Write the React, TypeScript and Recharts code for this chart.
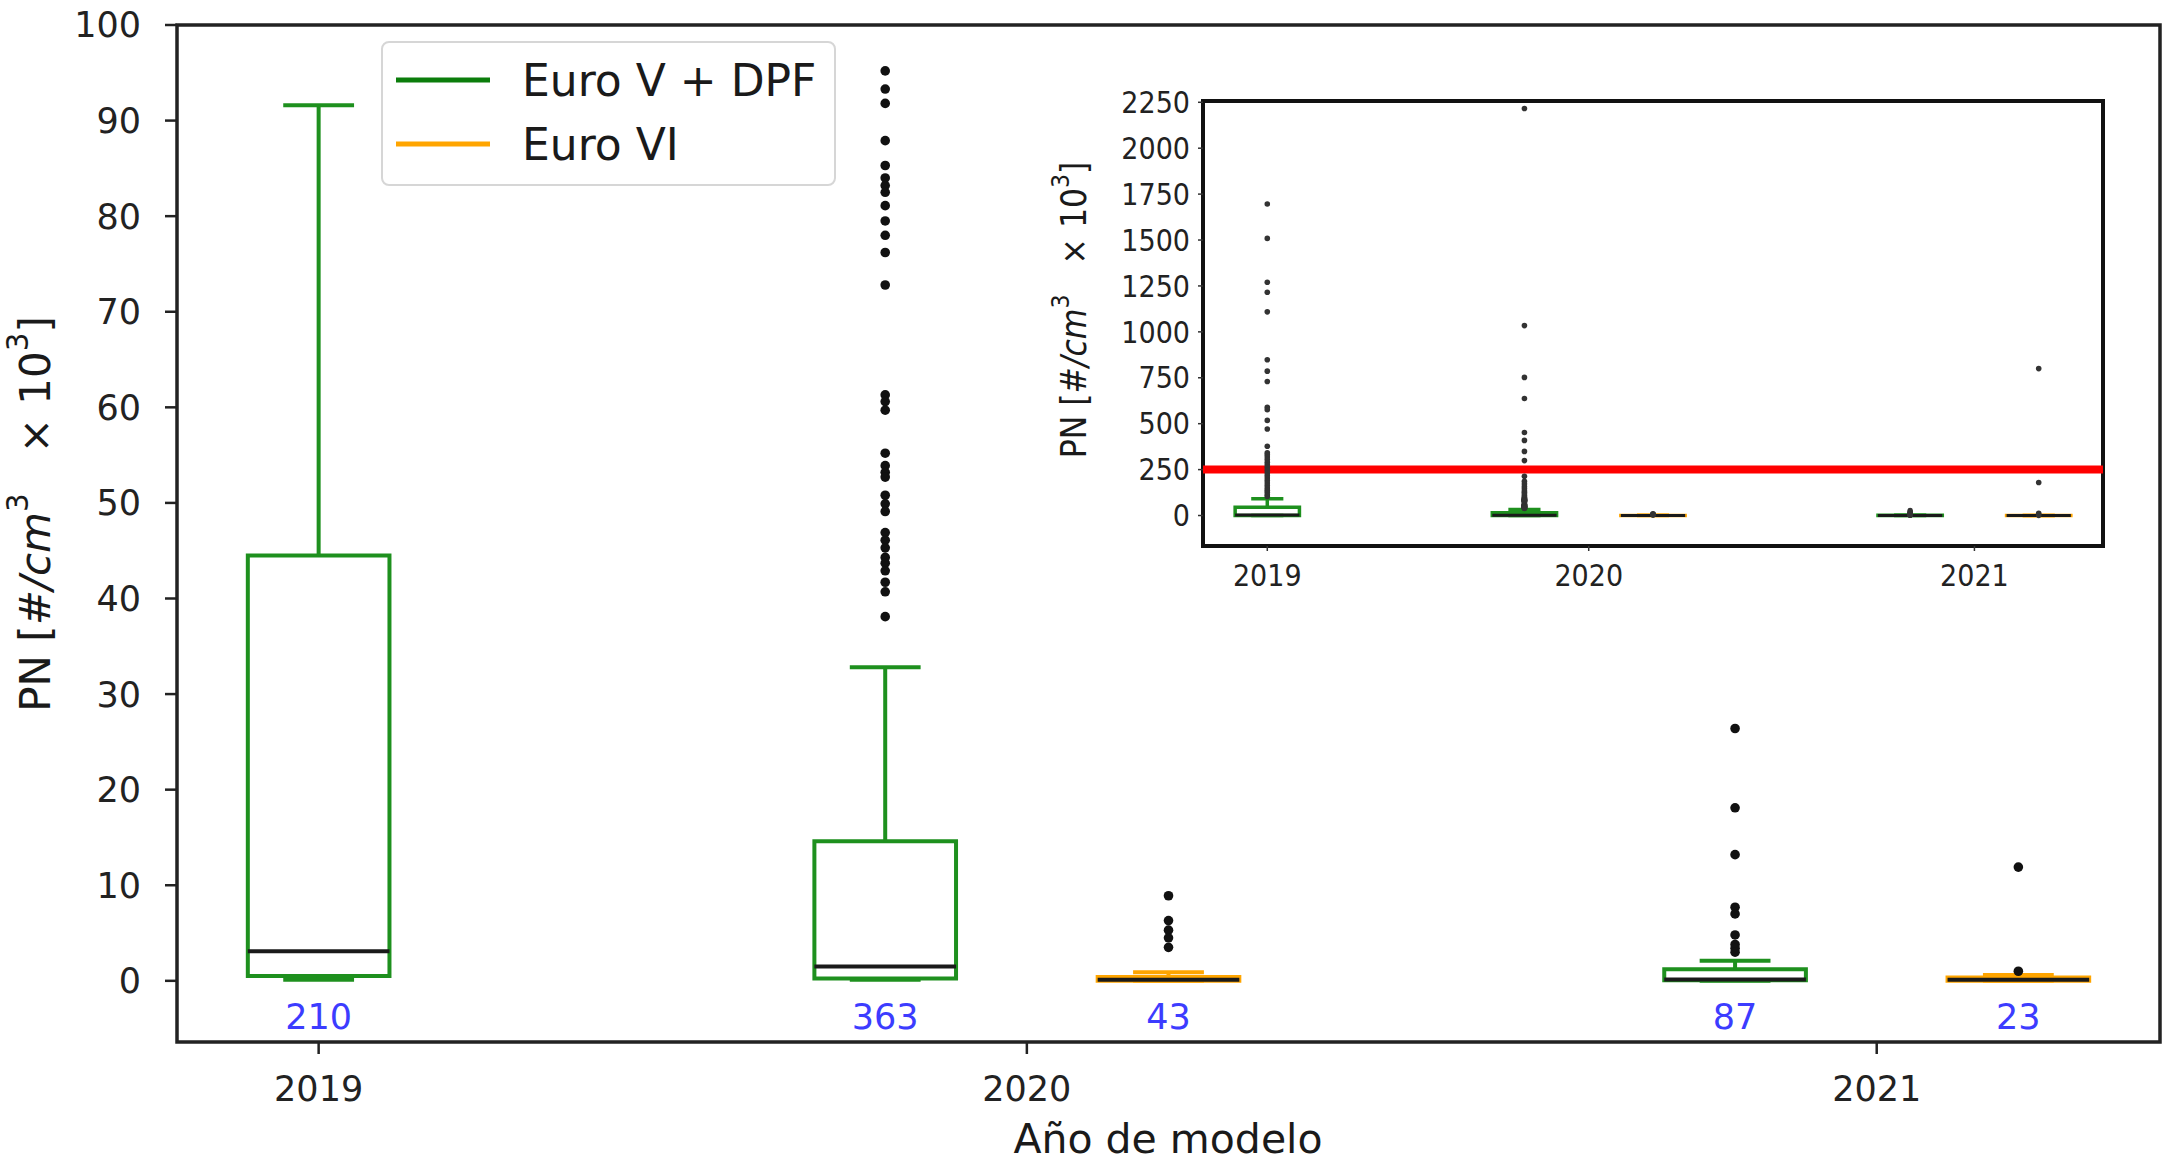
import React from "react";
import {
  ComposedChart,
  XAxis,
  YAxis,
  Scatter,
  ReferenceArea,
  ReferenceLine,
} from "recharts";

// año de modelo: etiqueta y posición del tick (entre las dos cajas del año)
const yearLabels = ["2019", "2020", "2021"];
const yearTicks = [0, 2.5, 5.5];

// una caja por (año, norma)
const boxPositions = [0, 2, 3, 5, 6];
const boxNorms = ["Euro V + DPF", "Euro V + DPF", "Euro VI", "Euro V + DPF", "Euro VI"];
const sampleCounts = [210, 363, 43, 87, 23];

// estadísticos PN [#/cm3 x 10^3]
const whiskerLow = [0.1, 0.1, 0, 0, 0];
const quartile1 = [0.5, 0.25, 0, 0.05, 0];
const medians = [3.1, 1.5, 0.1, 0.15, 0.1];
const quartile3 = [44.5, 14.6, 0.4, 1.2, 0.35];
const whiskerHigh = [91.6, 32.8, 0.9, 2.1, 0.6];

const outliers2019V = [
  1696, 1509, 1270, 1216, 1109, 848, 786, 730, 589, 576, 518, 471, 377, 342, 331,
  318, 305, 290, 276, 263, 247, 231, 218, 204, 191, 177, 163, 150, 138, 126, 113, 104,
];
const outliers2020V = [
  2216, 1034, 752, 637, 452, 409, 349, 299, 214, 186, 172, 158, 147, 135, 126, 118,
  109, 102, 95.2, 93.3, 91.8, 87.9, 85.3, 84.0, 83.2, 82.5, 81.1, 79.5, 78.0, 76.2,
  72.8, 61.3, 60.6, 59.7, 55.2, 53.9, 53.2, 52.7, 50.8, 49.9, 49.1, 46.9, 46.1, 45.3,
  44.3, 43.7, 42.9, 41.7, 40.7, 38.1,
];
const outliers2020VI = [8.9, 6.3, 5.3, 4.5, 3.5];
const outliers2021V = [26.4, 18.1, 13.2, 7.7, 7.0, 4.8, 3.8, 3.4, 3.0];
const outliers2021VI = [800, 180, 11.9, 1.0];
const outlierSets = [outliers2019V, outliers2020V, outliers2020VI, outliers2021V, outliers2021VI];

const mainTicks = [0, 10, 20, 30, 40, 50, 60, 70, 80, 90, 100];
const mainDomain = [-6.4, 100];
const insetTicks = [0, 250, 500, 750, 1000, 1250, 1500, 1750, 2000, 2250];
const insetDomain = [-166, 2257];
const limitPN = 250;

const X_DOMAIN = [-0.5, 6.5];
const GREEN = "#1e901e";
const ORANGE = "#ffa500";
const FONT = "'DejaVu Sans', sans-serif";
const INSET_FONT = "'DejaVu Sans Condensed', 'DejaVu Sans', sans-serif";

const normColor = (norm: string) => (norm === "Euro VI" ? ORANGE : GREEN);
const yearOf = (v: number) => yearLabels[yearTicks.indexOf(v)] ?? "";

function boxMarks(prefix: string, sw: number, medianW: number) {
  const half = 0.25;
  const capHalf = 0.125;
  const out: React.ReactNode[] = [];
  boxPositions.forEach((x, i) => {
    const c = normColor(boxNorms[i]);
    out.push(
      <ReferenceLine key={`${prefix}wl${i}`} segment={[{ x, y: whiskerLow[i] }, { x, y: quartile1[i] }]} stroke={c} strokeWidth={sw} ifOverflow="visible" />,
      <ReferenceLine key={`${prefix}wh${i}`} segment={[{ x, y: quartile3[i] }, { x, y: whiskerHigh[i] }]} stroke={c} strokeWidth={sw} ifOverflow="visible" />,
      <ReferenceLine key={`${prefix}cl${i}`} segment={[{ x: x - capHalf, y: whiskerLow[i] }, { x: x + capHalf, y: whiskerLow[i] }]} stroke={c} strokeWidth={sw} ifOverflow="visible" />,
      <ReferenceLine key={`${prefix}ch${i}`} segment={[{ x: x - capHalf, y: whiskerHigh[i] }, { x: x + capHalf, y: whiskerHigh[i] }]} stroke={c} strokeWidth={sw} ifOverflow="visible" />,
      <ReferenceArea key={`${prefix}b${i}`} x1={x - half} x2={x + half} y1={quartile1[i]} y2={quartile3[i]} fill="none" fillOpacity={0} stroke={c} strokeWidth={sw} ifOverflow="visible" />,
      <ReferenceLine key={`${prefix}m${i}`} segment={[{ x: x - half, y: medians[i] }, { x: x + half, y: medians[i] }]} stroke="#1a1a1a" strokeWidth={medianW} ifOverflow="visible" />
    );
  });
  return out;
}

const allOutliers = outlierSets.flatMap((vals, i) => vals.map((y) => ({ x: boxPositions[i], y })));
const mainOutliers = allOutliers.filter((p) => p.y <= mainDomain[1]);
const countPoints = boxPositions.map((x, i) => ({ x, y: -3.8, n: sampleCounts[i] }));

const PNLabel = ({ x, y, size }: { x: number; y: number; size: number }) => {
  const sup = Math.round(size * 0.4);
  return (
    <text
      transform={`translate(${x},${y}) rotate(-90)`}
      textAnchor="middle"
      dominantBaseline="central"
      fontSize={size}
      fill="#1a1a1a"
      style={{ whiteSpace: "pre" }}
    >
      <tspan>PN [</tspan>
      <tspan fontStyle="italic">#/cm</tspan>
      <tspan dy={-sup} fontSize={size * 0.7}>3</tspan>
      <tspan dy={sup}>{"   × 10"}</tspan>
      <tspan dy={-sup} fontSize={size * 0.7}>3</tspan>
      <tspan dy={sup}>]</tspan>
    </text>
  );
};

export default function App() {
  return (
    <div
      style={{
        position: "absolute",
        left: 0,
        top: 0,
        width: 2164,
        height: 1167,
        background: "#fff",
        fontFamily: FONT,
        overflow: "hidden",
      }}
    >
      {/* gráfico principal 0-100 */}
      <div style={{ position: "absolute", left: 0, top: 0 }}>
        <ComposedChart width={2164} height={1167} margin={{ top: 25, right: 4, bottom: 65, left: 0 }}>
          <XAxis
            type="number"
            dataKey="x"
            domain={X_DOMAIN}
            ticks={yearTicks}
            interval={0}
            tickFormatter={yearOf}
            height={60}
            axisLine={false}
            tickLine={{ stroke: "#222", strokeWidth: 2.5 }}
            tickSize={12}
            tickMargin={22}
            tick={{ fontSize: 35, fill: "#222", fontFamily: FONT }}
          />
          <YAxis
            type="number"
            dataKey="y"
            domain={mainDomain}
            allowDataOverflow
            ticks={mainTicks}
            interval={0}
            width={177}
            axisLine={false}
            tickLine={{ stroke: "#222", strokeWidth: 2.5 }}
            tickSize={12}
            tickMargin={24}
            tick={{ fontSize: 35, fill: "#222", fontFamily: FONT }}
          />
          {boxMarks("m", 4, 4)}
          <Scatter
            data={mainOutliers}
            isAnimationActive={false}
            shape={(p: any) => <circle cx={p.cx} cy={p.cy} r={4.8} fill="#111" />}
          />
          <Scatter
            data={countPoints}
            isAnimationActive={false}
            shape={(p: any) => (
              <text x={p.cx} y={p.cy} textAnchor="middle" dominantBaseline="central" fontSize={35} fill="#3c3cff" fontFamily={FONT}>
                {p.payload.n}
              </text>
            )}
          />
          <ReferenceArea x1={X_DOMAIN[0]} x2={X_DOMAIN[1]} y1={mainDomain[0]} y2={mainDomain[1]} fill="none" fillOpacity={0} stroke="#222" strokeWidth={3.5} ifOverflow="visible" />
        </ComposedChart>
      </div>

      {/* leyenda */}
      <div
        style={{
          position: "absolute",
          left: 381,
          top: 41,
          width: 451,
          height: 141,
          border: "2px solid #d6d6d6",
          borderRadius: 8,
          background: "rgba(255,255,255,0.85)",
        }}
      >
        <svg width={451} height={141} style={{ position: "absolute", left: 0, top: 0 }}>
          {["Euro V + DPF", "Euro VI"].map((name, i) => (
            <g key={name}>
              <line x1={13} x2={107} y1={37 + i * 64} y2={37 + i * 64} stroke={i === 0 ? "#0b7d0b" : ORANGE} strokeWidth={5} />
              <text x={139} y={37 + i * 64} dominantBaseline="central" fontSize={44} fill="#1a1a1a" fontFamily={FONT}>
                {name}
              </text>
            </g>
          ))}
        </svg>
      </div>

      {/* recuadro con la escala completa */}
      <div style={{ position: "absolute", left: 1040, top: 60, width: 1080, height: 560, background: "#fff" }}>
        <ComposedChart width={1080} height={560} margin={{ top: 41, right: 17, bottom: 24, left: 0 }}>
          <XAxis
            type="number"
            dataKey="x"
            domain={X_DOMAIN}
            ticks={yearTicks}
            interval={0}
            tickFormatter={yearOf}
            height={50}
            axisLine={false}
            tickLine={{ stroke: "#333", strokeWidth: 1.5 }}
            tickSize={5}
            tickMargin={14}
            tick={{ fontSize: 30, fill: "#222", fontFamily: INSET_FONT }}
          />
          <YAxis
            type="number"
            dataKey="y"
            domain={insetDomain}
            allowDataOverflow
            ticks={insetTicks}
            interval={0}
            width={163}
            axisLine={false}
            tickLine={{ stroke: "#333", strokeWidth: 1.5 }}
            tickSize={5}
            tickMargin={8}
            tick={{ fontSize: 30, fill: "#222", fontFamily: INSET_FONT }}
          />
          {boxMarks("i", 3.5, 3)}
          <Scatter
            data={allOutliers}
            isAnimationActive={false}
            shape={(p: any) => <circle cx={p.cx} cy={p.cy} r={2.8} fill="#333" />}
          />
          <ReferenceLine y={limitPN} stroke="#ff0000" strokeWidth={8} />
          <ReferenceArea x1={X_DOMAIN[0]} x2={X_DOMAIN[1]} y1={insetDomain[0]} y2={insetDomain[1]} fill="none" fillOpacity={0} stroke="#111" strokeWidth={4} ifOverflow="visible" />
        </ComposedChart>
      </div>

      {/* títulos de ejes */}
      <svg width={2164} height={1167} style={{ position: "absolute", left: 0, top: 0, pointerEvents: "none" }} fontFamily={FONT}>
        <PNLabel x={35} y={514} size={42} />
        <text x={1168} y={1139} textAnchor="middle" dominantBaseline="central" fontSize={41} fill="#1a1a1a">
          Año de modelo
        </text>
        <g fontFamily={INSET_FONT}>
          <PNLabel x={1074} y={310} size={35} />
        </g>
      </svg>
    </div>
  );
}
